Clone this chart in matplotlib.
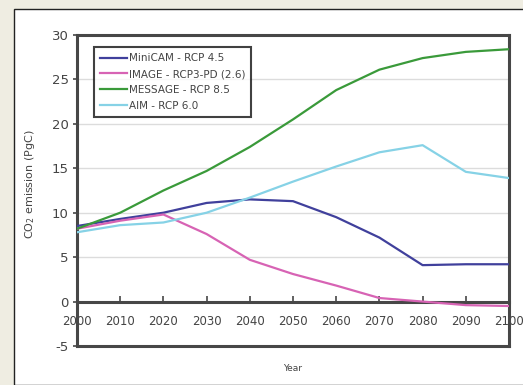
import matplotlib
matplotlib.use('Agg')
import matplotlib.pyplot as plt
from matplotlib.patches import Rectangle

plt.rcParams['axes.unicode_minus'] = False

years = [2000, 2010, 2020, 2030, 2040, 2050, 2060, 2070, 2080, 2090, 2100]

minicam = [8.5, 9.3, 10.0, 11.1, 11.5, 11.3, 9.5, 7.2, 4.1, 4.2, 4.2]
image = [8.2, 9.1, 9.8, 7.6, 4.7, 3.1, 1.8, 0.4, 0.0, -0.4, -0.5]
message = [8.2, 10.0, 12.5, 14.7, 17.4, 20.5, 23.8, 26.1, 27.4, 28.1, 28.4]
aim = [7.8, 8.6, 8.9, 10.0, 11.7, 13.5, 15.2, 16.8, 17.6, 14.6, 13.9]

series = [
    ('MiniCAM - RCP 4.5', minicam, '#40409c'),
    ('IMAGE - RCP3-PD (2.6)', image, '#d763b4'),
    ('MESSAGE - RCP 8.5', message, '#3a9a3a'),
    ('AIM - RCP 6.0', aim, '#86d2e6'),
]

yticks = [30, 25, 20, 15, 10, 5, 0, -5]
frame = '#474747'
text_col = '#444444'

fig = plt.figure(figsize=(5.23, 3.85), dpi=100)
fig.patch.set_facecolor('#efede2')

# white panel behind the chart
fig.patches.append(Rectangle((14 / 523, 0), 1.0, 1 - 9 / 385, transform=fig.transFigure,
                             facecolor='white', edgecolor='#222222', linewidth=1.0, zorder=0))

ax = fig.add_axes([77 / 523, 1 - 346 / 385, 432 / 523, 311 / 385])
ax.set_zorder(1)
ax.set_facecolor('white')

for label, vals, col in series:
    ax.plot(years, vals, color=col, lw=1.6, label=label, zorder=3)

ax.set_xlim(2000, 2100)
ax.set_ylim(-5, 30)
ax.set_yticks(yticks)
ax.set_xticks(years)

for y in [5, 10, 15, 20, 25]:
    ax.axhline(y, color='#dcdcdc', lw=1.0, zorder=1)

# x axis sits on the zero line, the box is closed at -5
ax.spines['bottom'].set_position(('data', 0))
for s in ax.spines.values():
    s.set_color(frame)
    s.set_linewidth(2.2)
ax.axhline(-5, color=frame, lw=2.2, clip_on=False, zorder=2.5)

ax.tick_params(axis='x', direction='in', length=4, width=1.2, color=frame,
               pad=10, labelsize=8.5, labelcolor=text_col)
ax.tick_params(axis='y', direction='out', length=3, width=1.2, color=frame,
               pad=3, labelsize=9.5, labelcolor=text_col)

ax.set_ylabel('CO$_2$ emission (PgC)', fontsize=8, color=text_col)
ax.yaxis.set_label_coords(-0.093, 0.52)
ax.text(0.5, -0.072, 'Year', transform=ax.transAxes, ha='center', va='center',
        fontsize=6.5, color=text_col)

leg = ax.legend(loc='upper left', bbox_to_anchor=(0.039, 0.961), borderaxespad=0,
                fontsize=7.5, frameon=True, fancybox=False, handlelength=2.6,
                handletextpad=0.15, labelspacing=0.55, borderpad=0.6)
leg.get_frame().set_edgecolor('#111111')
leg.get_frame().set_linewidth(1.5)
for t in leg.get_texts():
    t.set_color(text_col)

fig.savefig('out.png', dpi=100, facecolor=fig.get_facecolor())
